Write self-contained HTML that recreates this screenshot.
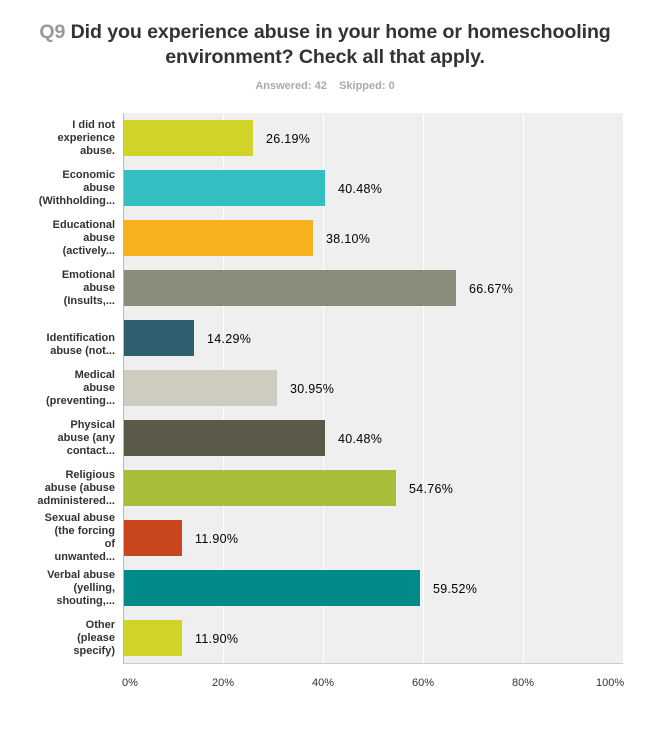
<!DOCTYPE html><html><head><style>
body{margin:0;width:650px;height:734px;background:#fff;font-family:"Liberation Sans",Arial,sans-serif;position:relative;overflow:hidden}
.t{position:absolute;left:0;width:650px;text-align:center;font-weight:bold;font-size:19.6px;color:#333;line-height:25px;top:20px;letter-spacing:-0.1px}
.t span{color:#999}
.s{position:absolute;top:80px;width:650px;text-align:center;font-size:11px;font-weight:bold;color:#aaa}
.pl{position:absolute;left:123px;top:113px;width:499px;height:550px;background:#efefef;border-left:1px solid #bbb;border-bottom:1px solid #ccc}
.g{position:absolute;top:0;height:550px;width:1px;background:#fff}
.b{position:absolute;left:0;height:36px}
.v{position:absolute;font-size:12.5px;color:#000;letter-spacing:.3px}
.l{position:absolute;right:535px;width:100px;text-align:right;font-size:11px;font-weight:bold;color:#333;line-height:13px}
.x{position:absolute;top:677px;font-size:11px;color:#333}
</style></head><body>
<div class="t"><span>Q9</span> Did you experience abuse in your home or homeschooling<br>environment? Check all that apply.</div>
<div class="s">Answered: 42&nbsp;&nbsp;&nbsp;&nbsp;Skipped: 0</div>
<div class="pl">
<div class="g" style="left:99px"></div><div class="g" style="left:199px"></div><div class="g" style="left:299px"></div><div class="g" style="left:399px"></div>
<div class="b" style="top:7px;width:129px;background:#d0d428"></div><div class="v" style="top:19px;left:142px">26.19%</div>
<div class="b" style="top:57px;width:201px;background:#33bfc1"></div><div class="v" style="top:69px;left:214px">40.48%</div>
<div class="b" style="top:107px;width:189px;background:#f7b11e"></div><div class="v" style="top:119px;left:202px">38.10%</div>
<div class="b" style="top:157px;width:332px;background:#8a8b79"></div><div class="v" style="top:169px;left:345px">66.67%</div>
<div class="b" style="top:207px;width:70px;background:#2d5f6e"></div><div class="v" style="top:219px;left:83px">14.29%</div>
<div class="b" style="top:257px;width:153px;background:#cdccbe"></div><div class="v" style="top:269px;left:166px">30.95%</div>
<div class="b" style="top:307px;width:201px;background:#5b5a48"></div><div class="v" style="top:319px;left:214px">40.48%</div>
<div class="b" style="top:357px;width:272px;background:#a8bd3a"></div><div class="v" style="top:369px;left:285px">54.76%</div>
<div class="b" style="top:407px;width:58px;background:#c9451c"></div><div class="v" style="top:419px;left:71px">11.90%</div>
<div class="b" style="top:457px;width:296px;background:#008b8b"></div><div class="v" style="top:469px;left:309px">59.52%</div>
<div class="b" style="top:507px;width:58px;background:#d0d428"></div><div class="v" style="top:519px;left:71px">11.90%</div>
</div>
<div class="l" style="top:119px">I did not<br>experience<br>abuse.</div>
<div class="l" style="top:169px">Economic<br>abuse<br>(Withholding...</div>
<div class="l" style="top:219px">Educational<br>abuse<br>(actively...</div>
<div class="l" style="top:269px">Emotional<br>abuse<br>(Insults,...</div>
<div class="l" style="top:332px">Identification<br>abuse (not...</div>
<div class="l" style="top:369px">Medical<br>abuse<br>(preventing...</div>
<div class="l" style="top:419px">Physical<br>abuse (any<br>contact...</div>
<div class="l" style="top:469px">Religious<br>abuse (abuse<br>administered...</div>
<div class="l" style="top:512px">Sexual abuse<br>(the forcing<br>of<br>unwanted...</div>
<div class="l" style="top:569px">Verbal abuse<br>(yelling,<br>shouting,...</div>
<div class="l" style="top:619px">Other<br>(please<br>specify)</div>
<div class="x" style="left:122px">0%</div><div class="x" style="left:212px">20%</div><div class="x" style="left:312px">40%</div><div class="x" style="left:412px">60%</div><div class="x" style="left:512px">80%</div><div class="x" style="left:596px">100%</div>
</body></html>
